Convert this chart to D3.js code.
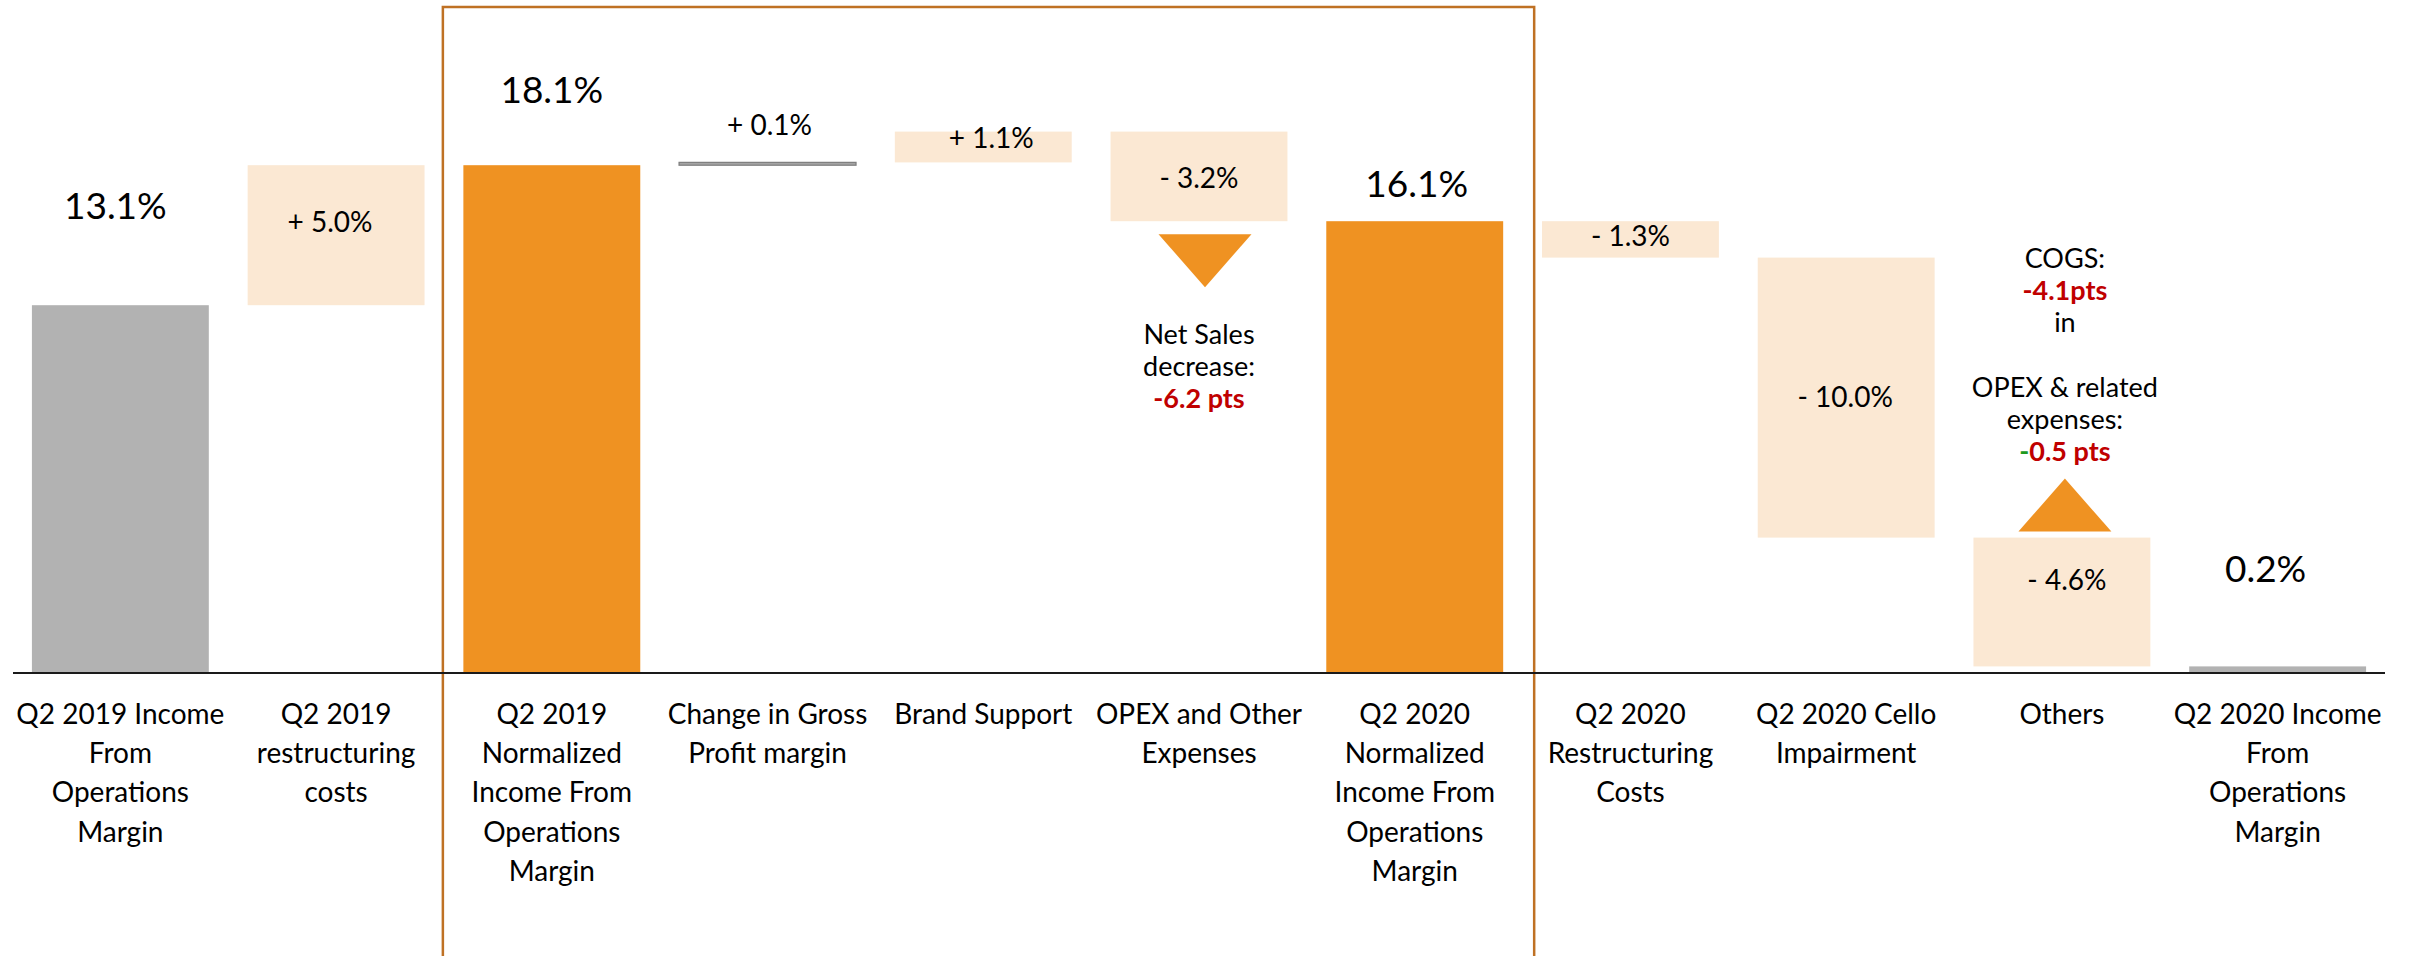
<!DOCTYPE html>
<html>
<head>
<meta charset="utf-8">
<script src="https://cdn.jsdelivr.net/npm/d3@7"></script>
<style>
  html, body { margin: 0; padding: 0; background: #ffffff; }
  svg { display: block; }
  text { font-family: Lato, "Noto Sans", sans-serif; fill: #000; }
</style>
</head>
<body>
<script>
// ---------------- DATA ----------------
const categories = [
  "Q2 2019 Income\nFrom\nOperations\nMargin",
  "Q2 2019\nrestructuring\ncosts",
  "Q2 2019\nNormalized\nIncome From\nOperations\nMargin",
  "Change in Gross\nProfit margin",
  "Brand Support",
  "OPEX and Other\nExpenses",
  "Q2 2020\nNormalized\nIncome From\nOperations\nMargin",
  "Q2 2020\nRestructuring\nCosts",
  "Q2 2020 Cello\nImpairment",
  "Others",
  "Q2 2020 Income\nFrom\nOperations\nMargin"
];
const values = [13.1, 5.0, 18.1, 0.1, 1.1, -3.2, 16.1, -1.3, -10.0, -4.6, 0.2];
const kinds  = ["total", "delta", "subtotal", "delta", "delta", "delta", "subtotal", "delta", "delta", "delta", "total"];
const valueLabels = ["13.1%", "+ 5.0%", "18.1%", "+ 0.1%", "+ 1.1%", "- 3.2%", "16.1%", "- 1.3%", "- 10.0%", "- 4.6%", "0.2%"];

const netSalesNote = [
  [{t: "Net Sales", c: "black"}],
  [{t: "decrease:", c: "black"}],
  [{t: "-6.2 pts", c: "red", b: true}]
];
const othersNote = [
  [{t: "COGS:", c: "black"}],
  [{t: "-4.1pts", c: "red", b: true}],
  [{t: "in", c: "black"}],
  [],
  [{t: "OPEX & related", c: "black"}],
  [{t: "expenses:", c: "black"}],
  [{t: "-", c: "green", b: true}, {t: "0.5 pts", c: "red", b: true}]
];

// ---------------- LAYOUT / STYLE ----------------
const W = 2409, H = 956;
const colors = {
  grey: "#B2B2B2", orange: "#EF9222", peach: "#FBE8D3",
  frame: "#BF7124", axis: "#1a1a1a", red: "#C00000", green: "#1E9A1E", black: "#000000",
  thin: "#A6A6A6", thinStroke: "#808080"
};
// label centre offset from rect top (px), and small horizontal nudges
const labelDy = [-100, 57, -76, -37, 6, 46, -38, 15, 139, 42, -98];
const labelDx = [-5, -6, 0, 2, 8, 0, 2, 0, -1, 5, -12];

const svg = d3.select("body").append("svg").attr("width", W).attr("height", H);

const idx = d3.range(categories.length);
const x = d3.scaleBand().domain(idx).range([12.5, 2385.5]).paddingInner(0.18).paddingOuter(0.09);
const y = d3.scaleLinear().domain([0, 24]).range([672, 0]);
const bw = x.bandwidth();

// waterfall computation
let running = 0;
const bars = idx.map(i => {
  const v = values[i];
  let y0, y1;
  if (kinds[i] === "delta") { y0 = running; y1 = running + v; running = y1; }
  else { y0 = 0; y1 = v; running = v; }
  return {i, v, kind: kinds[i], lo: Math.min(y0, y1), hi: Math.max(y0, y1)};
});

function fillOf(b) {
  if (b.kind === "total") return colors.grey;
  if (b.kind === "subtotal") return colors.orange;
  if (Math.abs(b.v) < 0.5) return colors.thin;
  return colors.peach;
}

// highlight frame
const frameL = x(2) - 20.5, frameR = x(6) + bw + 31;
svg.append("rect")
  .attr("x", frameL).attr("y", 7)
  .attr("width", frameR - frameL).attr("height", H + 20)
  .attr("fill", "none").attr("stroke", colors.frame).attr("stroke-width", 2.5);

// bars
svg.append("g").selectAll("rect").data(bars).join("rect")
  .attr("x", d => x(d.i))
  .attr("width", bw)
  .attr("y", d => y(d.hi))
  .attr("height", d => y(d.lo) - y(d.hi))
  .attr("fill", fillOf)
  .attr("stroke", d => (d.kind === "delta" && Math.abs(d.v) < 0.5) ? colors.thinStroke : "none")
  .attr("stroke-width", 1.3);

// axis baseline
svg.append("line")
  .attr("x1", 13).attr("x2", 2385)
  .attr("y1", y(0) + 1).attr("y2", y(0) + 1)
  .attr("stroke", colors.axis).attr("stroke-width", 2.2);

// value labels
svg.append("g").selectAll("text").data(bars).join("text")
  .attr("x", d => x(d.i) + bw / 2 + labelDx[d.i])
  .attr("y", d => {
    const fs = d.kind === "delta" ? 28 : 37;
    return y(d.hi) + labelDy[d.i] + 0.36 * fs;
  })
  .attr("text-anchor", "middle")
  .attr("font-size", d => d.kind === "delta" ? 28 : 37)
  .text(d => valueLabels[d.i]);

// category labels
const catG = svg.append("g");
idx.forEach(i => {
  const lines = categories[i].split("\n");
  const t = catG.append("text")
    .attr("text-anchor", "middle")
    .attr("font-size", 28);
  lines.forEach((ln, k) => {
    t.append("tspan")
      .attr("x", x(i) + bw / 2)
      .attr("y", 714 + 39.2 * k + 10)
      .text(ln);
  });
});

// annotations
function note(lines, cx, cy0, step) {
  const g = svg.append("g");
  lines.forEach((parts, k) => {
    if (!parts.length) return;
    const t = g.append("text").attr("text-anchor", "middle").attr("font-size", 27)
      .attr("x", cx).attr("y", cy0 + step * k + 0.36 * 27);
    parts.forEach(p => {
      t.append("tspan")
        .style("fill", colors[p.c])
        .attr("font-weight", p.b ? "bold" : "normal")
        .text(p.t);
    });
  });
}

// down triangle under OPEX box
const b6 = bars[5];
const t6cx = x(5) + bw / 2 + 6, t6top = y(b6.lo) + 13;
svg.append("path")
  .attr("d", `M${t6cx - 46.5},${t6top} L${t6cx + 46.5},${t6top} L${t6cx},${t6top + 53} Z`)
  .attr("fill", colors.orange);
note(netSalesNote, x(5) + bw / 2, 334, 32);

// up triangle above Others box
const b10 = bars[9];
const t10cx = x(9) + bw / 2 + 3, t10base = y(b10.hi) - 6;
svg.append("path")
  .attr("d", `M${t10cx - 46.5},${t10base} L${t10cx + 46.5},${t10base} L${t10cx},${t10base - 53} Z`)
  .attr("fill", colors.orange);
note(othersNote, x(9) + bw / 2 + 3, 258, 32.2);
</script>
</body>
</html>
